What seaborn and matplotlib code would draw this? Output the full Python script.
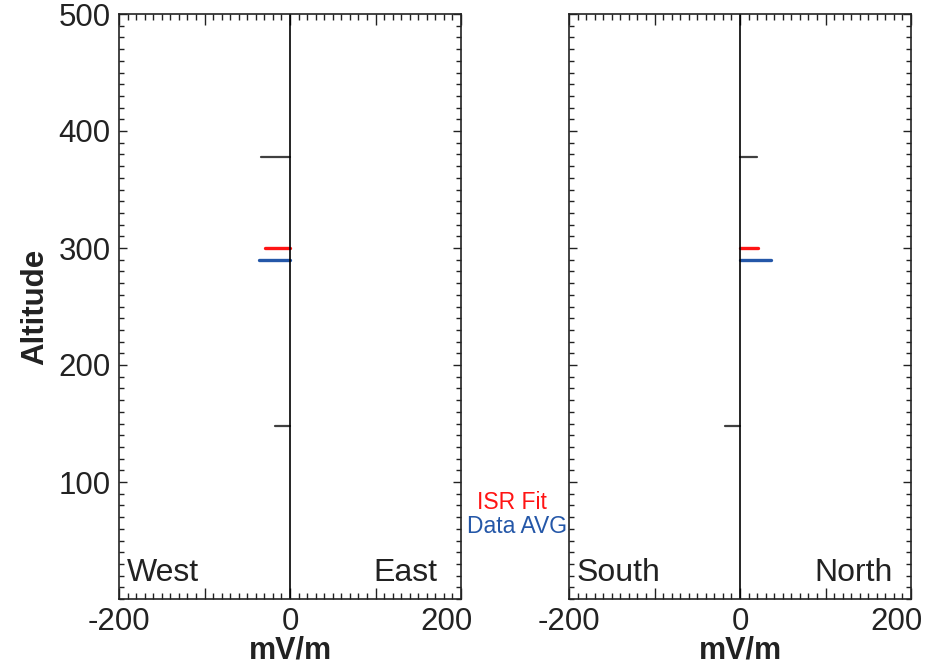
import matplotlib
matplotlib.use("Agg")
import matplotlib.pyplot as plt
import matplotlib.transforms as mtransforms
import seaborn as sns
import pandas as pd
from matplotlib.ticker import MultipleLocator, FixedLocator, FixedFormatter

sns.set_style("white")
plt.rcParams['font.family'] = ['Liberation Sans', 'DejaVu Sans']

# ---- data ----
ref_alt = [378, 148]
ref_ew = [-34, -17]
ref_ns = [20, -17]
isr_alt = [300]
isr_ew = [-29]
isr_ns = [21]
avg_alt = [290]
avg_ew = [-36]
avg_ns = [36]
x_ticks = [-200, -100, 0, 100, 200]
x_ticklabels = ['-200', '', '0', '', '200']
y_ticks = [100, 200, 300, 400, 500]
panel_labels = [("West", "East"), ("South", "North")]

series_colors = {"ref": "#404040", "isr": "#ff1414", "avg": "#2457a8"}
series_lw = {"ref": 1.6, "isr": 2.4, "avg": 2.4}


def build(alts, vals, name):
    rows = []
    for i, (a, v) in enumerate(zip(alts, vals)):
        rows.append(dict(series=name, seg=f"{name}{i}", alt=a, val=0))
        rows.append(dict(series=name, seg=f"{name}{i}", alt=a, val=v))
    return rows


frames = [
    pd.DataFrame(build(ref_alt, ref_ew, "ref") + build(isr_alt, isr_ew, "isr") + build(avg_alt, avg_ew, "avg")),
    pd.DataFrame(build(ref_alt, ref_ns, "ref") + build(isr_alt, isr_ns, "isr") + build(avg_alt, avg_ns, "avg")),
]

fig = plt.figure(figsize=(9.25, 6.72), dpi=100)
W, H = 925, 672
boxes = [(119, 461), (569, 911)]
top_px, bot_px = 14, 599
axes = []
for (l, r) in boxes:
    ax = fig.add_axes([l / W, 1 - bot_px / H, (r - l) / W, (bot_px - top_px) / H])
    axes.append(ax)

for k, ax in enumerate(axes):
    df = frames[k]
    for name in ["ref", "isr", "avg"]:
        sub = df[df.series == name]
        sns.lineplot(data=sub, x="val", y="alt", units="seg", estimator=None, sort=False,
                     color=series_colors[name], lw=series_lw[name], ax=ax, legend=False)
    ax.axvline(0, color="black", lw=1.2)
    ax.set_xlim(-200, 200)
    ax.set_ylim(0, 500)
    ax.xaxis.set_major_locator(FixedLocator(x_ticks))
    ax.xaxis.set_major_formatter(FixedFormatter(x_ticklabels))
    ax.xaxis.set_minor_locator(MultipleLocator(10))
    ax.yaxis.set_major_locator(FixedLocator(y_ticks))
    ax.yaxis.set_minor_locator(MultipleLocator(10))
    ax.tick_params(axis='both', which='both', direction='in', top=True, right=True,
                   bottom=True, left=True, colors='#222222', width=1.0)
    ax.tick_params(axis='x', which='major', length=8, labelsize=22.5, pad=6)
    ax.tick_params(axis='x', which='minor', length=4)
    ax.tick_params(axis='y', which='major', length=6, labelsize=22.5, pad=6)
    ax.tick_params(axis='y', which='minor', length=3.5)
    for s in ax.spines.values():
        s.set_visible(True)
        s.set_color('#222222')
        s.set_linewidth(1.2)
    ax.set_xlabel("mV/m", fontsize=22, fontweight='bold', labelpad=-1, color='#222222')
    ax.set_ylabel("")
    for lbl in ax.get_xticklabels() + ax.get_yticklabels():
        lbl.set_color('#222222')
    # shift the last x tick label inward, as in the reference
    last = ax.xaxis.get_majorticklabels()[-1]
    last.set_transform(last.get_transform() +
                       mtransforms.ScaledTranslation(-15 / 100, 0, fig.dpi_scale_trans))
    lo, hi = panel_labels[k]
    ax.text(0.022, 0.03, lo, transform=ax.transAxes, fontsize=23, ha='left', va='baseline', color='#222222')
    ax.text(0.947 if k == 1 else 0.93, 0.03, hi, transform=ax.transAxes, fontsize=23, ha='right',
            va='baseline', color='#222222')

axes[0].set_ylabel("Altitude", fontsize=22.5, fontweight='bold', labelpad=6, color='#222222')
axes[1].tick_params(axis='y', labelleft=False)

fig.text(512 / W, 1 - 509 / H, "ISR Fit", color=series_colors["isr"], fontsize=16.5, ha='center', va='baseline')
fig.text(517 / W, 1 - 533 / H, "Data AVG", color=series_colors["avg"], fontsize=16.5, ha='center', va='baseline')

fig.savefig("out.png", dpi=100)
